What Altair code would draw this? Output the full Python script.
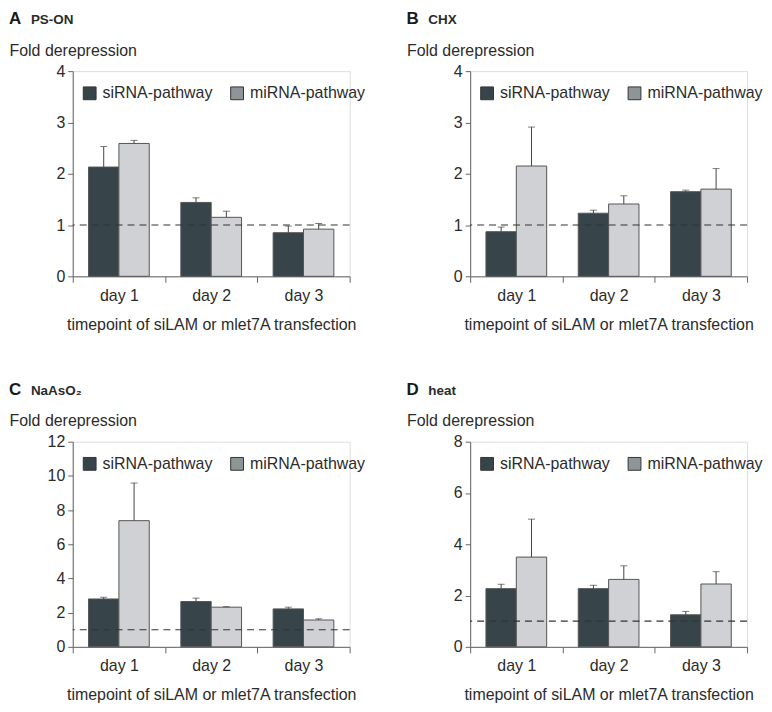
import altair as alt
import pandas as pd

days = ["day 1", "day 2", "day 3"]
pathways = ["siRNA-pathway", "miRNA-pathway"]

# Panel A: PS-ON
a_si = [2.13, 1.44, 0.85]
a_si_err = [0.40, 0.09, 0.13]
a_mi = [2.59, 1.15, 0.92]
a_mi_err = [0.06, 0.12, 0.11]

# Panel B: CHX
b_si = [0.87, 1.23, 1.65]
b_si_err = [0.09, 0.06, 0.03]
b_mi = [2.15, 1.41, 1.70]
b_mi_err = [0.76, 0.16, 0.40]

# Panel C: NaAsO2
c_si = [2.80, 2.65, 2.22]
c_si_err = [0.10, 0.20, 0.10]
c_mi = [7.38, 2.32, 1.57]
c_mi_err = [2.20, 0.03, 0.07]

# Panel D: heat
d_si = [2.27, 2.27, 1.25]
d_si_err = [0.17, 0.13, 0.13]
d_mi = [3.50, 2.63, 2.45]
d_mi_err = [1.48, 0.53, 0.48]

reference_level = [1]

DARK = "#37454a"
LIGHT = "#cfd1d4"
MID = "#8f9497"
STROKE = "#555555"
TEXT = "#2b2b2b"
FONT = "Liberation Sans"
FS = 16

PW, PH = 278, 206


def panel(letter, name, si, si_err, mi, mi_err, ymax, step, line_front):
    rows = []
    for i, d in enumerate(days):
        rows.append({"day": d, "pathway": pathways[0], "value": si[i], "err": si_err[i]})
        rows.append({"day": d, "pathway": pathways[1], "value": mi[i], "err": mi_err[i]})
    df = pd.DataFrame(rows)

    y_scale = alt.Scale(domain=[0, ymax], nice=False)
    y_axis = alt.Axis(
        values=list(range(0, ymax + 1, step)),
        format="d",
        grid=False,
        tickSize=5,
        labelOverlap=False,
        labelFontSize=FS,
        labelColor=TEXT,
        labelFont=FONT,
        labelPadding=3,
        domainColor="#666666",
        tickColor="#666666",
        title="Fold derepression",
        titleAngle=0,
        titleAlign="left",
        titleBaseline="alphabetic",
        titleX=-64,
        titleY=-16,
        titleFontSize=FS,
        titleFontWeight="normal",
        titleColor=TEXT,
        titleFont=FONT,
    )

    base = alt.Chart(df).transform_calculate(
        upper="datum.value + datum.err"
    ).encode(
        x=alt.X(
            "day:N",
            sort=days,
            scale=alt.Scale(paddingInner=0, paddingOuter=0),
            axis=alt.Axis(
                title="timepoint of siLAM or mlet7A transfection",
                labelAngle=0,
                tickBand="extent",
                tickSize=6,
                labelPadding=5,
                titlePadding=13,
                labelFontSize=FS,
                titleFontSize=FS,
                titleFontWeight="normal",
                labelColor=TEXT,
                titleColor=TEXT,
                domainColor="#666666",
                tickColor="#666666",
                labelFont=FONT,
                titleFont=FONT,
            ),
        ),
        xOffset=alt.XOffset(
            "pathway:N", sort=pathways,
            scale=alt.Scale(paddingInner=0, paddingOuter=0.52),
        ),
    )

    bars = base.mark_bar(stroke=STROKE, strokeWidth=1).encode(
        y=alt.Y("value:Q", scale=y_scale, axis=y_axis),
        color=alt.condition(
            alt.datum.pathway == "miRNA-pathway",
            alt.value(LIGHT),
            alt.Color(
                "pathway:N",
                sort=pathways,
                scale=alt.Scale(domain=pathways, range=[DARK, MID]),
                legend=alt.Legend(
                    title=None,
                    orient="none",
                    legendX=9,
                    legendY=14,
                    direction="horizontal",
                    symbolType="square",
                    symbolSize=165,
                    symbolStrokeColor="#333333",
                    symbolStrokeWidth=1,
                    labelFontSize=FS,
                    labelFont=FONT,
                    labelColor=TEXT,
                    labelOffset=5,
                    columnPadding=15,
                    padding=0,
                ),
            ),
        ),
    )

    err_rule = base.mark_rule(color="#444444", strokeWidth=1).encode(
        y=alt.Y("value:Q", scale=y_scale, axis=y_axis),
        y2="upper:Q",
    )
    err_cap = base.mark_tick(color="#444444", thickness=1, size=7).encode(
        y=alt.Y("upper:Q", scale=y_scale, axis=y_axis),
    )

    ref = alt.Chart(pd.DataFrame({"ref": reference_level})).mark_rule(
        strokeDash=[7, 5], color="#333333", strokeWidth=1.2
    ).encode(y=alt.Y("ref:Q", scale=y_scale, axis=y_axis))

    letter_mark = alt.Chart(pd.DataFrame({"t": [letter]})).mark_text(
        align="left", baseline="alphabetic", fontSize=17, fontWeight="bold",
        font=FONT, color="#1a1a1a",
    ).encode(x=alt.value(-64), y=alt.value(-47), text="t:N")
    name_mark = alt.Chart(pd.DataFrame({"t": [name]})).mark_text(
        align="left", baseline="alphabetic", fontSize=13.5, fontWeight="bold",
        font=FONT, color="#2b2b2b",
    ).encode(x=alt.value(-42), y=alt.value(-47), text="t:N")

    if line_front:
        layers = [bars, err_rule, err_cap, ref, letter_mark, name_mark]
    else:
        layers = [bars, ref, err_rule, err_cap, letter_mark, name_mark]
    return alt.layer(*layers).properties(width=PW, height=PH)


pA = panel("A", "PS-ON", a_si, a_si_err, a_mi, a_mi_err, 4, 1, True)
pB = panel("B", "CHX", b_si, b_si_err, b_mi, b_mi_err, 4, 1, False)
pC = panel("C", "NaAsO\u2082", c_si, c_si_err, c_mi, c_mi_err, 12, 2, False)
pD = panel("D", "heat", d_si, d_si_err, d_mi, d_mi_err, 8, 2, False)

chart = alt.concat(
    pA, pB, pC, pD, columns=2,
    spacing={"row": 166, "column": 121},
    bounds="flush",
).resolve_scale(color="independent", y="independent", x="independent").properties(
    padding={"left": 0, "top": 0, "right": 0, "bottom": 0}
).configure_view(stroke=None).configure(background="white")

chart.save("out.html", embed_options={"renderer": "svg", "actions": False})
